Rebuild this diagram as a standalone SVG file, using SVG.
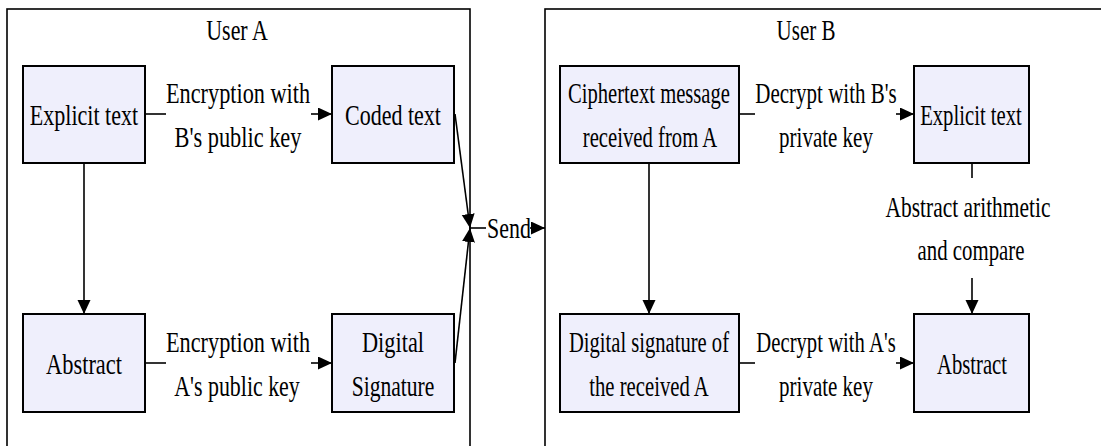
<svg xmlns="http://www.w3.org/2000/svg" width="1101" height="446" viewBox="0 0 1101 446">
<defs>
<marker id="ah" markerUnits="userSpaceOnUse" markerWidth="15" markerHeight="14" refX="14" refY="6.5" orient="auto">
<path d="M0,0 L14,6.5 L0,13 z" fill="#000"/>
</marker>
<style>
.frame{fill:none;stroke:#000;stroke-width:1.6}
.box{fill:#EFEFFC;stroke:#000;stroke-width:2}
.c{fill:none;stroke:#000;stroke-width:1.6}
.a{marker-end:url(#ah)}
text{font-family:"Liberation Serif","Times New Roman",serif;font-size:30px;fill:#000;text-anchor:middle}
</style>
</defs>
<rect width="1101" height="446" fill="#fff"/>
<g id="userA">
<rect class="frame" x="7" y="9" width="463" height="460"/>
<text transform="translate(237,40) scale(0.73,1)">User A</text>
</g>
<g id="userB">
<rect class="frame" x="545" y="9" width="580" height="460"/>
<text transform="translate(806,40) scale(0.70,1)">User B</text>
</g>
<g id="a_explicit">
<rect class="box" x="23" y="66" width="122" height="97"/>
<text transform="translate(84,125) scale(0.735,1)">Explicit text</text>
</g>
<g id="a_coded">
<rect class="box" x="332" y="66" width="122" height="97"/>
<text transform="translate(393,125) scale(0.734,1)">Coded text</text>
</g>
<g id="a_abstract">
<rect class="box" x="23" y="314" width="122" height="98"/>
<text transform="translate(84,374) scale(0.748,1)">Abstract</text>
</g>
<g id="a_signature">
<rect class="box" x="332" y="314" width="122" height="98"/>
<text transform="translate(393,352) scale(0.744,1)">Digital</text>
<text transform="translate(393,396) scale(0.72,1)">Signature</text>
</g>
<g id="b_cipher">
<rect class="box" x="560" y="66" width="179" height="97"/>
<text transform="translate(649,103) scale(0.687,1)">Ciphertext message</text>
<text transform="translate(650,147) scale(0.69,1)">received from A</text>
</g>
<g id="b_explicit">
<rect class="box" x="914" y="66" width="115" height="97"/>
<text transform="translate(971,125) scale(0.69,1)">Explicit text</text>
</g>
<g id="b_signature">
<rect class="box" x="560" y="314" width="179" height="98"/>
<text transform="translate(649,352) scale(0.686,1)">Digital signature of</text>
<text transform="translate(649,396) scale(0.69,1)">the received A</text>
</g>
<g id="b_abstract">
<rect class="box" x="914" y="314" width="115" height="98"/>
<text transform="translate(972,374) scale(0.69,1)">Abstract</text>
</g>
<g id="connectors">
<path class="c" d="M145,114 H166"/>
<path class="c a" d="M311,114 H332"/>
<text transform="translate(238,103) scale(0.742,1)">Encryption with</text>
<text transform="translate(238,147) scale(0.745,1)">B's public key</text>
<path class="c" d="M145,363 H166"/>
<path class="c a" d="M311,363 H332"/>
<text transform="translate(238,352) scale(0.742,1)">Encryption with</text>
<text transform="translate(237,396) scale(0.73,1)">A's public key</text>
<path class="c a" d="M84,163 V314"/>
<path class="c a" d="M455,114 L470,228"/>
<path class="c a" d="M455,363 L470,228"/>
<path class="c" d="M470,228 H486"/>
<text transform="translate(509,238) scale(0.73,1)">Send</text>
<path class="c a" d="M530,228 H545"/>
<path class="c" d="M739,114 H755"/>
<path class="c a" d="M896,114 H914"/>
<text transform="translate(826,103) scale(0.70,1)">Decrypt with B's</text>
<text transform="translate(826,147) scale(0.70,1)">private key</text>
<path class="c" d="M739,363 H755"/>
<path class="c a" d="M896,363 H914"/>
<text transform="translate(826,352) scale(0.69,1)">Decrypt with A's</text>
<text transform="translate(826,396) scale(0.70,1)">private key</text>
<path class="c a" d="M649,163 V314"/>
<path class="c" d="M972,163 V178"/>
<text transform="translate(968,217) scale(0.715,1)">Abstract arithmetic</text>
<text transform="translate(971,260) scale(0.694,1)">and compare</text>
<path class="c a" d="M972,278 V314"/>
</g>
</svg>
